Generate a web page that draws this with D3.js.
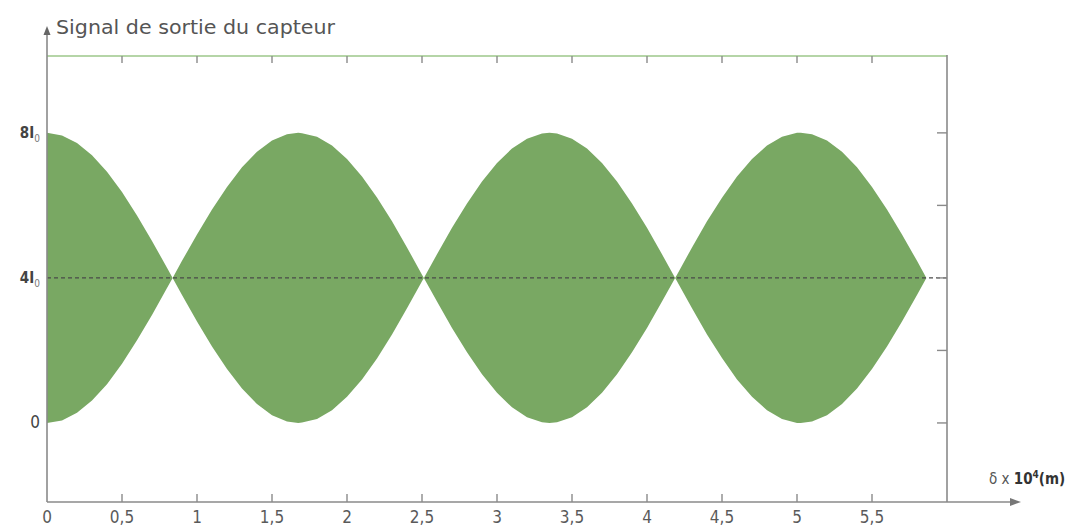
<!DOCTYPE html>
<html><head><meta charset="utf-8">
<script src="https://cdn.jsdelivr.net/npm/d3@7"></script>
<style>
html,body{margin:0;padding:0;background:#fff;}
svg{display:block;}
text{font-family:"DejaVu Sans Condensed","Liberation Sans Narrow","DejaVu Sans",sans-serif;font-stretch:condensed;}
</style></head>
<body><svg id="c" width="1081" height="528"></svg>
<script>
// ---- data ----
const envX = [0,0.1,0.2,0.3,0.4,0.5,0.6,0.7,0.8,0.8375,0.9,1.0,1.1,1.2,1.3,1.4,1.5,1.6,1.675,1.7,1.8,1.9,2.0,2.1,2.2,2.3,2.4,2.5,2.5125,2.6,2.7,2.8,2.9,3.0,3.1,3.2,3.3,3.35,3.4,3.5,3.6,3.7,3.8,3.9,4.0,4.1,4.1875,4.2,4.3,4.4,4.5,4.6,4.7,4.8,4.9,5.0,5.025,5.1,5.2,5.3,5.4,5.5,5.6,5.7,5.8,5.8625];
const envUpper = [8.00,7.93,7.72,7.38,6.93,6.37,5.72,5.02,4.28,4.00,4.47,5.20,5.89,6.51,7.05,7.48,7.79,7.96,8.00,7.99,7.89,7.65,7.28,6.80,6.22,5.56,4.84,4.09,4.00,4.65,5.38,6.05,6.66,7.17,7.57,7.84,7.98,8.00,7.98,7.84,7.57,7.17,6.66,6.05,5.38,4.65,4.00,4.09,4.84,5.56,6.21,6.80,7.28,7.65,7.89,8.00,8.00,7.96,7.79,7.48,7.05,6.51,5.89,5.20,4.47,4.00];
const envLower = [0.00,0.07,0.28,0.62,1.07,1.63,2.28,2.98,3.72,4.00,3.53,2.80,2.11,1.49,0.95,0.52,0.21,0.04,0.00,0.01,0.11,0.35,0.72,1.20,1.78,2.44,3.16,3.91,4.00,3.35,2.62,1.95,1.34,0.83,0.43,0.16,0.02,0.00,0.02,0.16,0.43,0.83,1.34,1.95,2.62,3.35,4.00,3.91,3.16,2.44,1.79,1.20,0.72,0.35,0.11,0.00,0.00,0.04,0.21,0.52,0.95,1.49,2.11,2.80,3.53,4.00];
const meanLevel = 4;
const xTicks = [0,0.5,1,1.5,2,2.5,3,3.5,4,4.5,5,5.5];
const xTickLabels = ["0","0,5","1","1,5","2","2,5","3","3,5","4","4,5","5","5,5"];
const yLabelValues = [8,4,0];
const yLabelMain = ["8I","4I","0"];
const yLabelSub = ["0","0",""];
const rightTicks = [0,2,4,6,8];
const title = "Signal de sortie du capteur";
const xTitle = "δ x ";
const xTitleBold = "10";
const xTitleSup = "4";
const xTitleEnd = "(m)";

// ---- layout ----
const L = 47, R = 947, T = 56, B = 502;
const svg = d3.select("#c");
const x = d3.scaleLinear().domain([0,6]).range([L,R]);
const y = d3.scaleLinear().domain([-2.18,10.12]).range([B,T]);
const gray = "#8a8a8a";

const data = envX.map((v,i)=>({x:v,u:envUpper[i],l:envLower[i]}));

// filled signal
svg.append("path").datum(data)
  .attr("fill","#79a863")
  .attr("d", d3.area().x(d=>x(d.x)).y0(d=>y(d.l)).y1(d=>y(d.u)));

// dashed mean line
svg.append("line")
  .attr("x1",x(0)).attr("x2",x(6)).attr("y1",y(meanLevel)).attr("y2",y(meanLevel))
  .attr("stroke","#4a4a4a").attr("stroke-width",1.3).attr("stroke-dasharray","4,3");

// top border (green) with ticks
svg.append("line").attr("x1",L).attr("x2",R).attr("y1",T).attr("y2",T)
  .attr("stroke","#9cc78a").attr("stroke-width",1.6);
svg.append("g").selectAll("line").data(xTicks.slice(1)).join("line")
  .attr("x1",d=>x(d)).attr("x2",d=>x(d)).attr("y1",T).attr("y2",T+7)
  .attr("stroke",gray).attr("stroke-width",1.4);

// right border with ticks
svg.append("line").attr("x1",R).attr("x2",R).attr("y1",T-1).attr("y2",B)
  .attr("stroke",gray).attr("stroke-width",1.6);
svg.append("g").selectAll("line").data(rightTicks).join("line")
  .attr("x1",R-10).attr("x2",R).attr("y1",d=>y(d)).attr("y2",d=>y(d))
  .attr("stroke",gray).attr("stroke-width",1.4);

// bottom axis with arrow
svg.append("line").attr("x1",L).attr("x2",1014).attr("y1",B).attr("y2",B)
  .attr("stroke",gray).attr("stroke-width",1.6);
svg.append("path").attr("d",`M1021,${B} L1010,${B-4} L1010,${B+4} Z`).attr("fill","#777");
svg.append("g").selectAll("line").data(xTicks.slice(1)).join("line")
  .attr("x1",d=>x(d)).attr("x2",d=>x(d)).attr("y1",B).attr("y2",B-8)
  .attr("stroke",gray).attr("stroke-width",1.4);
svg.append("g").selectAll("text").data(xTicks).join("text")
  .attr("x",d=>x(d)).attr("y",B+21).attr("text-anchor","middle")
  .attr("font-size",17).attr("fill","#5a5a5a")
  .text((d,i)=>xTickLabels[i]);

// left axis with arrow
svg.append("line").attr("x1",L).attr("x2",L).attr("y1",B).attr("y2",33)
  .attr("stroke",gray).attr("stroke-width",1.6);
svg.append("path").attr("d",`M${L},26 L${L-3.5},35 L${L+3.5},35 Z`).attr("fill","#666");

// y labels
const yl = svg.append("g").selectAll("text").data(yLabelValues).join("text")
  .attr("x",L-7).attr("y",d=>y(d)+5).attr("text-anchor","end")
  .attr("fill","#444").attr("font-size",(d,i)=>i<2?15:17)
  .attr("font-weight",(d,i)=>i<2?"bold":"normal");
yl.append("tspan").text((d,i)=>yLabelMain[i]);
yl.append("tspan").attr("font-size",10).attr("dy",4).attr("font-weight","normal")
  .attr("fill","#777").text((d,i)=>yLabelSub[i]);

// title
svg.append("text").attr("x",56).attr("y",34).attr("font-size",19).attr("fill","#555")
  .attr("textLength",279).attr("lengthAdjust","spacingAndGlyphs").text(title);

// x title
const xt = svg.append("text").attr("x",989).attr("y",484).attr("font-size",15).attr("fill","#555");
xt.append("tspan").text(xTitle);
xt.append("tspan").attr("font-weight","bold").attr("fill","#333").text(xTitleBold);
xt.append("tspan").attr("font-weight","bold").attr("fill","#333").attr("font-size",10).attr("dy",-6).text(xTitleSup);
xt.append("tspan").attr("font-weight","bold").attr("fill","#333").attr("dy",6).text(xTitleEnd);
</script></body></html>
